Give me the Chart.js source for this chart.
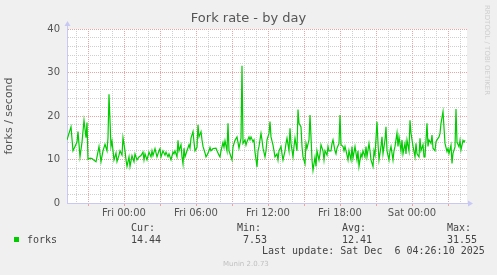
<!DOCTYPE html>
<html lang="en">
<head>
    <meta charset="UTF-8">
    <title>Fork rate - by day</title>
    <script src="https://cdn.jsdelivr.net/npm/chart.js"></script>
    <style>
        body { margin: 0; background: #f0f0f0; }
        #wrap { position: relative; width: 497px; height: 275px; background: #f0f0f0; overflow: hidden; }
        #chart { position: absolute; left: 0; top: 0; }
        .mono { position: absolute; font-family: "DejaVu Sans Mono", monospace; font-size: 10px; line-height: 10px; color: #444; white-space: pre; }
        .small { position: absolute; font-family: "DejaVu Sans", sans-serif; font-size: 7px; line-height: 8px; color: #c0c0c0; white-space: pre; }
        #swatch { position: absolute; left: 14px; top: 237px; width: 5px; height: 5px; background: #00cc00; }
        #rrd { left: 491px; top: 5px; transform: rotate(90deg); transform-origin: 0 0; color: #cfcfcf; }
    </style>
    <script>
        // minutes relative to Fri 00:00, one sample read every ~10 minutes
        const minutes = [
            -285, -275, -265, -255, -245, -235, -230, -220, -210, -200, -190, -185, -180, -170, -160, -150, -140, -135,
            -125, -115, -105, -95, -85, -80, -75, -65, -60, -50, -40, -35, -25, -20, -10, -5,
            5, 10, 15, 25, 30, 40, 50, 55, 65, 75, 85, 95, 100, 105, 115, 125, 135, 140, 145, 155, 165, 175,
            180, 185, 195, 205, 210, 220, 225, 235, 245, 250, 255, 265, 270, 275, 285, 290, 295, 300, 305, 315,
            325, 330, 335, 345, 350, 355, 365, 370, 375, 385, 390, 395, 405, 410, 415, 425, 430, 435, 445, 460,
            465, 475, 480, 485, 495, 500, 505, 515, 520, 525, 535, 540, 545, 555, 565, 575, 585, 590, 595, 605,
            610, 615, 625, 630, 635, 645, 650, 655, 665, 670, 675, 685, 690, 695, 705, 710, 715, 725, 730, 735,
            745, 750, 755, 765, 770, 775, 785, 790, 795, 805, 810, 815, 825, 830, 835, 845, 850, 855, 865, 870,
            875, 885, 890, 895, 905, 910, 915, 925, 930, 935, 940, 945, 955, 960, 965, 975, 980, 985, 995, 1000,
            1005, 1015, 1020, 1025, 1035, 1040, 1045, 1055, 1060, 1065, 1075, 1080, 1085, 1095, 1100, 1105, 1115,
            1120, 1125, 1135, 1140, 1145, 1155, 1165, 1170, 1175, 1185, 1190, 1195, 1205, 1210, 1215, 1225, 1230,
            1235, 1245, 1250, 1255, 1265, 1270, 1275, 1285, 1290, 1295, 1305, 1310, 1315, 1325, 1330, 1335, 1345,
            1350, 1355, 1365, 1370, 1375, 1385, 1390, 1395, 1405, 1410, 1415, 1425, 1430, 1435, 1445, 1455, 1460,
            1465, 1475, 1480, 1485, 1495, 1500, 1505, 1515, 1520, 1525, 1535, 1540, 1545, 1555, 1560, 1565, 1575,
            1580, 1585, 1595, 1605, 1615, 1620, 1625, 1635, 1640, 1645, 1655, 1660, 1665, 1675, 1680, 1685, 1695,
            1700, 1705
        ];
        const forks = [
            14.5, 16, 17.5, 12, 13, 14, 16.4, 10.6, 14, 19, 15, 18.5, 10, 10.3, 10.2, 9.8, 9.5, 10.6,
            13, 9.5, 12, 13.5, 12, 15, 25, 13, 14.2, 9.9, 11.5, 9.5, 11, 12, 11, 15,
            12, 9.9, 8.4, 10.6, 8.4, 10.9, 9.5, 11.3, 9.9, 10.6, 10.9, 11.7, 9.9, 11.3, 9.9, 11.7, 10.6, 12, 10.9, 12.5, 10.6, 12,
            12.5, 10.6, 12, 11, 11.7, 10.6, 11.3, 9.9, 11.7, 11.3, 12, 10.6, 14.4, 12, 13.4, 10.6, 9, 12.6, 10.6, 12,
            13.4, 12.6, 14.9, 16.4, 14, 12, 12.8, 18, 15.2, 16.4, 14.5, 13, 11.5, 10.6, 11, 12, 12.8, 12, 12.5, 12.6,
            12, 11, 10.6, 12, 13.9, 12.8, 14.3, 12, 18.3, 12, 10.6, 9.9, 12.9, 14.4, 15.2, 12.6, 14.9, 31.55, 13.7, 14.5,
            13.3, 14.1, 15.2, 14.5, 15.2, 14.1, 14.5, 11.7, 8.3, 12, 13, 16, 14.5, 12.6, 10.6, 12, 14.5, 16, 18.7, 15.2,
            13.3, 12, 10.6, 11.3, 9.9, 12, 13, 11.3, 9.9, 12, 13.7, 14.9, 12, 17.2, 13.7, 10.6, 13, 14.9, 12, 21.5,
            18.3, 17.5, 13, 10.6, 9, 13.7, 12.6, 14.5, 20.2, 15.2, 9.9, 7.53, 10.6, 8.4, 12, 9.9, 11.3, 13.4, 12, 9.9,
            12, 11, 13, 12, 12, 13.7, 14.5, 12, 11.3, 12.6, 13.7, 20.2, 13.4, 13, 12, 13, 11,
            9.9, 12, 9.9, 13, 10.3, 13, 9.9, 12, 8.4, 11.3, 10.6, 12, 10.6, 13, 10.6, 13.7, 12,
            9.9, 8.4, 12, 11, 18.7, 13.7, 9.9, 13, 15.2, 11.3, 14.5, 17.5, 12, 9.9, 12, 13, 9.9,
            12, 13, 16.1, 13, 15.2, 12, 14.5, 11.3, 13.7, 11.3, 14.5, 12, 19, 16.1, 13, 10.6, 13.7,
            11.3, 10.6, 14.9, 12, 13.4, 10.6, 10.6, 18.3, 13, 14.5, 13.7, 15.6, 12.6, 12, 14.1, 14.5, 15.2,
            16, 18.3, 21, 13.7, 11.8, 12.5, 11.4, 13.3, 9.1, 11.4, 12.9, 21.6, 14, 12.9, 14.4, 12.2, 14.4,
            14, 14.44
        ];
        const tickMinutes = [0, 360, 720, 1080, 1440];
        const tickLabels = ["Fri 00:00", "Fri 06:00", "Fri 12:00", "Fri 18:00", "Sat 00:00"];
        const yTicks = [0, 10, 20, 30, 40];

        const minorColor = "#cfcfcf";
        const majorColor = "#eba3a3";
        const axisColor = "#c8c8f4";

        // white plot area + the little arrows at the axis ends
        const munin = {
            id: "munin",
            beforeDraw(chart) {
                const a = chart.chartArea, ctx = chart.ctx;
                ctx.save();
                ctx.fillStyle = "#ffffff";
                ctx.fillRect(a.left, a.top, a.right - a.left, a.bottom - a.top);
                ctx.restore();
            },
            afterDraw(chart) {
                const a = chart.chartArea, ctx = chart.ctx;
                const l = Math.round(a.left) + 0.5, b = Math.round(a.bottom) + 0.5;
                ctx.save();
                ctx.strokeStyle = axisColor;
                ctx.fillStyle = axisColor;
                ctx.lineWidth = 1;
                ctx.beginPath();
                ctx.moveTo(l, a.top); ctx.lineTo(l, a.top - 4);
                ctx.moveTo(a.right, b); ctx.lineTo(a.right + 3, b);
                ctx.stroke();
                ctx.beginPath();
                ctx.moveTo(l - 3, a.top - 3); ctx.lineTo(l + 3, a.top - 3); ctx.lineTo(l, a.top - 8);
                ctx.closePath(); ctx.fill();
                ctx.beginPath();
                ctx.moveTo(a.right + 1, b - 3); ctx.lineTo(a.right + 1, b + 3); ctx.lineTo(a.right + 6, b);
                ctx.closePath(); ctx.fill();
                ctx.restore();
            }
        };

        window.onload = function() {
            const ctx = document.getElementById("chart").getContext("2d");
            new Chart(ctx, {
                type: "line",
                data: {
                    datasets: [{
                        label: "forks",
                        data: minutes.map((m, i) => ({ x: m, y: forks[i] })),
                        borderColor: "#00cc00",
                        borderWidth: 1.2,
                        pointRadius: 0,
                        tension: 0,
                        fill: false
                    }]
                },
                options: {
                    responsive: false,
                    animation: false,
                    devicePixelRatio: 1,
                    layout: { padding: { left: 0, right: 0, top: 0, bottom: 52 } },
                    plugins: {
                        legend: { display: false },
                        tooltip: { enabled: false },
                        title: {
                            display: true,
                            text: "Fork rate - by day",
                            color: "#555",
                            font: { family: "DejaVu Sans", size: 13, weight: "normal", lineHeight: "16px" },
                            padding: { top: 11, bottom: 2 }
                        }
                    },
                    scales: {
                        x: {
                            type: "linear",
                            min: -285,
                            max: 1715,
                            afterBuildTicks: s => {
                                s.ticks = [];
                                for (let v = -240; v <= 1680; v += 60) s.ticks.push({ value: v });
                            },
                            afterFit: s => { s.height = 20; },
                            ticks: {
                                autoSkip: false,
                                maxRotation: 0,
                                padding: 1,
                                color: "#555",
                                font: { family: "DejaVu Sans", size: 10 },
                                callback: v => {
                                    const i = tickMinutes.indexOf(v);
                                    return i >= 0 ? tickLabels[i] : "";
                                }
                            },
                            grid: {
                                color: c => (c.tick && c.tick.value % 180 === 0) ? majorColor : minorColor,
                                tickColor: c => (c.tick && c.tick.value % 180 === 0) ? majorColor : "rgba(0,0,0,0)",
                                tickLength: 3,
                                lineWidth: 1
                            },
                            border: { color: axisColor, dash: [1, 1] }
                        },
                        y: {
                            min: 0,
                            max: 40,
                            afterFit: s => { s.width = 67; },
                            ticks: {
                                stepSize: 2,
                                autoSkip: false,
                                padding: 7,
                                color: "#555",
                                font: { family: "DejaVu Sans", size: 10 },
                                callback: v => yTicks.includes(v) ? v : ""
                            },
                            grid: {
                                color: c => (c.tick && c.tick.value % 10 === 0) ? majorColor : minorColor,
                                drawTicks: false,
                                lineWidth: 1
                            },
                            border: { color: axisColor, dash: [1, 1] },
                            title: {
                                display: true,
                                text: "forks / second",
                                color: "#555",
                                font: { family: "DejaVu Sans", size: 11 },
                                padding: { top: 3, bottom: 0 }
                            }
                        },
                        // empty right axis, only keeps the right margin
                        y2: {
                            position: "right",
                            afterFit: s => { s.width = 30; },
                            ticks: { display: false },
                            grid: { display: false },
                            border: { display: false }
                        }
                    }
                },
                plugins: [munin]
            });
        };
    </script>
</head>
<body>
    <div id="wrap">
        <canvas id="chart" width="497" height="275"></canvas>
        <div class="small" id="rrd">RRDTOOL / TOBI OETIKER</div>
        <div id="swatch"></div>
        <div class="mono" style="left:27px; top:235px;">forks</div>
        <div class="mono" style="left:131px; top:223px;">Cur:</div>
        <div class="mono" style="left:131px; top:235px;">14.44</div>
        <div class="mono" style="left:237px; top:223px;">Min:</div>
        <div class="mono" style="left:243px; top:235px;">7.53</div>
        <div class="mono" style="left:342px; top:223px;">Avg:</div>
        <div class="mono" style="left:342px; top:235px;">12.41</div>
        <div class="mono" style="left:447px; top:223px;">Max:</div>
        <div class="mono" style="left:447px; top:235px;">31.55</div>
        <div class="mono" style="left:262px; top:246px;">Last update: Sat Dec  6 04:26:10 2025</div>
        <div class="small" style="left:223px; top:260px;">Munin 2.0.73</div>
    </div>
</body>
</html>
